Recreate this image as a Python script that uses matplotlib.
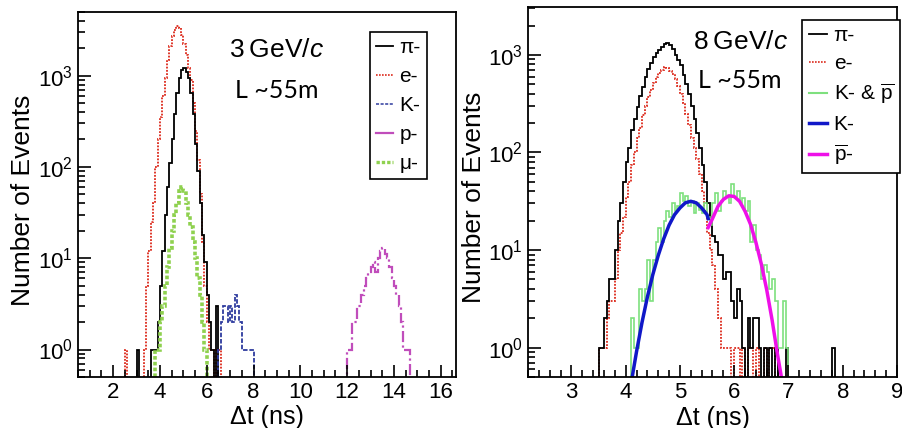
import numpy as np
import matplotlib
matplotlib.use("Agg")
import matplotlib.pyplot as plt
from matplotlib.lines import Line2D
from matplotlib.ticker import MultipleLocator, LogLocator, NullFormatter

plt.rcParams['font.family'] = ['Liberation Sans', 'DejaVu Sans']
plt.rcParams['mathtext.fontset'] = 'custom'
plt.rcParams['mathtext.rm'] = 'Liberation Sans'
plt.rcParams['mathtext.it'] = 'Liberation Sans:italic'
plt.rcParams['mathtext.bf'] = 'Liberation Sans:bold'

# ---- 3 GeV/c panel (bin width 0.1 ns, first bin left edge given)
W3 = 0.1
pi3_start = 3.0
pi3 = [1, 0, 0, 0, 0, 0, 1, 1, 1, 2, 5, 12, 30, 60, 110, 200, 380, 650, 950, 1150,
       1200, 1100, 950, 650, 380, 180, 90, 40, 18, 9, 4, 2, 1, 0, 3]
e3_start = 2.5
e3 = [1, 0, 0, 0, 0, 0, 0, 0, 1, 5, 12, 25, 40, 100, 200, 350, 600, 950, 1500, 2100,
      2700, 3200, 3500, 3300, 2800, 2200, 1700, 1200, 900, 500, 250, 120, 50, 15, 5, 2,
      1, 1, 0, 1, 1]
mu3_start = 3.8
mu3 = [1, 1, 2, 3, 5, 8, 13, 20, 30, 40, 55, 60, 55, 40, 30, 22, 15, 10, 6, 4, 2, 1]
k3_start = 6.5
k3 = [1, 2, 3, 3, 2, 3, 2, 4, 3, 2, 1, 1, 1, 1, 1]
p3_start = 12.0
p3 = [1, 1, 2, 2, 3, 3, 4, 5, 6, 7, 8, 9, 7, 10, 12, 13, 11, 10, 8, 6, 5, 4, 3, 2, 1, 1, 1]

# ---- 8 GeV/c panel (bin width 0.05 ns)
W8 = 0.05
pi8_start = 3.5
pi8 = [1, 1, 2, 3, 5, 5, 10, 20, 30, 50, 80, 110, 170, 220, 290, 380, 470, 600, 720, 830,
       950, 1050, 1120, 1200, 1300, 1330, 1250, 1150, 1000, 880, 780, 620, 500, 400, 300,
       220, 160, 110, 75, 50, 30, 22, 14, 12, 9, 9, 5, 6, 6, 3, 2, 4, 3, 1, 0, 2, 1, 2, 2,
       1, 0, 1, 0, 1, 0, 1, 0, 0, 0, 1, 0, 0, 0, 0, 0, 0, 0, 0, 0, 0, 0, 0, 0, 0, 0, 0, 1]
e8_start = 3.5
e8 = [1, 1, 1, 2, 3, 3, 5, 10, 15, 22, 35, 50, 75, 100, 140, 180, 240, 300, 370, 440,
      520, 590, 650, 700, 750, 740, 690, 630, 560, 480, 400, 320, 250, 190, 140, 110, 85,
      60, 40, 25, 15, 10, 7, 4, 2, 1, 1, 1, 1, 0, 1, 1, 0, 1, 0, 1, 1, 0, 1, 0, 0, 1, 0,
      1, 1]
kp8_start = 4.1
kp8 = [2, 1, 1, 4, 3, 4, 8, 3, 8, 12, 17, 12, 20, 25, 22, 30, 25, 28, 38, 32, 36, 28, 32,
       24, 30, 26, 24, 30, 22, 18, 30, 38, 25, 32, 40, 35, 30, 48, 35, 40, 30, 34, 25, 32,
       12, 18, 10, 9, 5, 7, 6, 4, 5, 3, 1, 1, 3, 1]

# fitted curves
kfit_x = [4.12, 4.2, 4.3, 4.4, 4.5, 4.6, 4.7, 4.8, 4.9, 5.0, 5.1, 5.2, 5.3, 5.4, 5.5, 5.52]
kfit_y = [0.5, 0.91, 1.8, 3.3, 5.6, 8.8, 13, 18, 23, 27, 30.5, 31.6, 30.5, 27, 23, 21]
pfit_x = [5.52, 5.6, 5.7, 5.8, 5.9, 6.0, 6.1, 6.2, 6.3, 6.4, 6.5, 6.6, 6.7, 6.8, 6.87]
pfit_y = [17, 21, 28, 33, 36, 35.4, 31.5, 25, 18.4, 12, 7.2, 3.9, 1.9, 0.84, 0.5]

C_PI, C_E, C_K, C_P, C_MU = "black", "#dc2a1c", "#2d3a9e", "#c04dbb", "#8fd14f"
C_KP, C_KFIT, C_PFIT = "#7ee07e", "#1018c8", "#ee10e8"
LS_E = (0, (1, 0.8))


def hist(ax, start, width, counts, **kw):
    v = np.asarray(counts, float)
    v = np.where(v > 0, v, 1e-3)
    edges = start + width * np.arange(len(v) + 1)
    ax.stairs(v, edges, baseline=1e-3, **kw)


def style(ax, xmin, xmax, major, minor, ymax):
    ax.set_yscale("log")
    ax.set_xlim(xmin, xmax)
    ax.set_ylim(0.5, ymax)
    ax.xaxis.set_major_locator(MultipleLocator(major))
    ax.xaxis.set_minor_locator(MultipleLocator(minor))
    ax.yaxis.set_major_locator(LogLocator(base=10, numticks=10))
    ax.yaxis.set_minor_locator(LogLocator(base=10, subs=np.arange(2, 10), numticks=10))
    ax.yaxis.set_minor_formatter(NullFormatter())
    ax.tick_params(which="both", direction="in", top=False, right=False, width=1.2)
    ax.tick_params(which="major", length=9, labelsize=16)
    ax.tick_params(which="minor", length=5)
    for s in ax.spines.values():
        s.set_linewidth(1.3)
    ax.set_xlabel("Δt (ns)", fontsize=18)
    ax.set_ylabel("Number of Events", fontsize=19)
    ax.yaxis.set_label_coords(-0.114, 0.485)
    ax.xaxis.set_label_coords(0.5, -0.078)


fig = plt.figure(figsize=(9.02, 4.28), dpi=100)
ax1 = fig.add_axes([0.0865, 0.1192, 0.419, 0.853])
ax2 = fig.add_axes([0.5854, 0.1192, 0.409, 0.8645])

# left panel
hist(ax1, e3_start, W3, e3, color=C_E, ls=LS_E, lw=1.3)
hist(ax1, pi3_start, W3, pi3, color=C_PI, lw=1.3)
hist(ax1, mu3_start, W3, mu3, color=C_MU, ls=(0, (1, 0.6)), lw=2.6)
hist(ax1, k3_start, W3, k3, color=C_K, ls=(0, (2.5, 1)), lw=1.3)
hist(ax1, p3_start, W3, p3, color=C_P, ls=(0, (5, 1.5, 1, 1.5)), lw=1.6)
style(ax1, 0.5, 16.65, 2, 0.5, 5000)
ax1.text(0.525, 0.895, "3\u2009GeV/$c$", transform=ax1.transAxes, fontsize=19,
         ha="center", va="center")
ax1.text(0.525, 0.785, "L ~55m", transform=ax1.transAxes, fontsize=18,
         family="Lato", ha="center", va="center")
h1 = [Line2D([], [], color=C_PI, lw=1.3),
      Line2D([], [], color=C_E, ls=LS_E, lw=1.2),
      Line2D([], [], color=C_K, ls=(0, (2, 1)), lw=1.1),
      Line2D([], [], color=C_P, lw=1.6),
      Line2D([], [], color=C_MU, ls=(0, (1, 0.6)), lw=2.4)]
leg1 = ax1.legend(h1, ["π-", "e-", "K-", "p-", "μ-"], loc="upper right",
                  bbox_to_anchor=(0.923, 0.945), fontsize=15, handlelength=0.8,
                  handletextpad=0.3, borderpad=0.3, labelspacing=0.48,
                  borderaxespad=0, fancybox=False, framealpha=1, edgecolor="black")
leg1.get_frame().set_linewidth(1.2)

# right panel
hist(ax2, e8_start, W8, e8, color=C_E, ls=LS_E, lw=1.3)
hist(ax2, pi8_start, W8, pi8, color=C_PI, lw=1.3)
hist(ax2, kp8_start, W8, kp8, color=C_KP, lw=1.2)
ax2.plot(kfit_x, kfit_y, color=C_KFIT, lw=2.5)
ax2.plot(pfit_x, pfit_y, color=C_PFIT, lw=2.5)
style(ax2, 2.2, 9.0, 1, 0.2, 3100)
ax2.text(0.575, 0.905, "8\u2009GeV/$c$", transform=ax2.transAxes, fontsize=19,
         ha="center", va="center")
ax2.text(0.575, 0.8, "L ~55m", transform=ax2.transAxes, fontsize=18,
         family="Lato", ha="center", va="center")
h2 = [Line2D([], [], color=C_PI, lw=1.3),
      Line2D([], [], color=C_E, ls=LS_E, lw=1.2),
      Line2D([], [], color=C_KP, lw=1.5),
      Line2D([], [], color=C_KFIT, lw=2.5),
      Line2D([], [], color=C_PFIT, lw=2.5)]
leg2 = ax2.legend(h2, ["π-", "e-", r"K- & $\overline{\mathrm{p}}$", "K-",
                       r"$\overline{\mathrm{p}}$-"], loc="upper right",
                  bbox_to_anchor=(1.008, 0.965), fontsize=15, handlelength=0.9,
                  handletextpad=0.3, borderpad=0.3, labelspacing=0.42,
                  borderaxespad=0, fancybox=False, framealpha=1, edgecolor="black")
leg2.get_frame().set_linewidth(1.2)

fig.savefig("out.png", dpi=100)
